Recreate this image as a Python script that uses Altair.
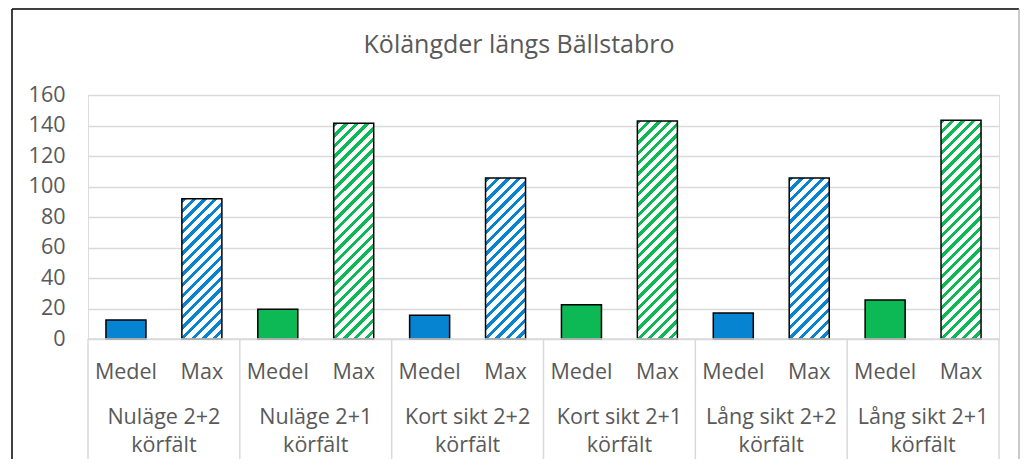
import altair as alt
import pandas as pd

# ---- data ----
groups = ["Nuläge 2+2 körfält", "Nuläge 2+1 körfält", "Kort sikt 2+2 körfält",
          "Kort sikt 2+1 körfält", "Lång sikt 2+2 körfält", "Lång sikt 2+1 körfält"]
group_labels = ["Nuläge 2+2\nkörfält", "Nuläge 2+1\nkörfält", "Kort sikt 2+2\nkörfält",
                "Kort sikt 2+1\nkörfält", "Lång sikt 2+2\nkörfält", "Lång sikt 2+1\nkörfält"]
lanes = ["2+2", "2+1", "2+2", "2+1", "2+2", "2+1"]
subs = ["Medel", "Max"]
medel = [12.5, 19.5, 15.5, 22.5, 17.0, 25.5]
maxv = [92.0, 141.5, 105.5, 143.0, 105.5, 143.5]
y_ticks = [0, 20, 40, 60, 80, 100, 120, 140, 160]
title_text = "Kölängder längs Bällstabro"

# ---- styling ----
BLUE = "#0784D1"
GREEN = "#0CB955"
lane_color = {"2+2": BLUE, "2+1": GREEN}
GRAY_TXT = "#595959"
GRID = "#D9D9D9"
FONT = "Open Sans"
W, H = 911, 244
YMAX = 160
BAR_W = 40.0

rows = []
for g, gl, ln, me, mx in zip(groups, group_labels, lanes, medel, maxv):
    rows.append({"group": g, "glabel": gl, "lane": ln, "sub": "Medel", "value": me})
    rows.append({"group": g, "glabel": gl, "lane": ln, "sub": "Max", "value": mx})
df = pd.DataFrame(rows)

xscale = alt.Scale(domain=groups, paddingInner=0, paddingOuter=0)
oscale = alt.Scale(domain=subs, paddingInner=0.473, paddingOuter=0.2365)
yscale = alt.Scale(domain=[0, YMAX])

yaxis = alt.Axis(values=y_ticks, title=None, domain=False, ticks=False,
                 grid=True, gridColor=GRID, gridWidth=1.3,
                 labelColor=GRAY_TXT, labelFontSize=21.5, labelFont=FONT,
                 labelPadding=23, labelOverlap=False)

X = alt.X("group:N", scale=xscale, axis=None)
XO = alt.XOffset("sub:N", scale=oscale)
Y = alt.Y("value:Q", scale=yscale, axis=yaxis)


def stripe_gradient(color, hpx, wpx=BAR_W, period=10.5, frac=0.42):
    gx, gy = 1.0 / hpx, 1.0 / wpx
    s = (gx + gy) / (gx * gx + gy * gy)
    gx, gy = s * gx, s * gy
    n = max(1, int(round((wpx + hpx) / period)))
    stops = []
    for k in range(n):
        a = k / n
        b = (k + frac) / n
        c = (k + 1) / n
        stops += [{"offset": a, "color": color},
                  {"offset": b, "color": color},
                  {"offset": b, "color": "#FFFFFF"},
                  {"offset": c, "color": "#FFFFFF"}]
    clean = []
    last = 0.0
    for st in stops:
        off = min(1.0, max(last, st["offset"]))
        clean.append({"offset": off, "color": st["color"]})
        last = off
    return {"gradient": "linear", "x1": 0, "y1": 0, "x2": gx, "y2": gy, "stops": clean}


base = alt.Chart(df)

medel_bars = base.transform_filter(alt.datum.sub == "Medel").mark_bar(
    stroke="black", strokeWidth=1.5
).encode(
    x=X, xOffset=XO, y=Y,
    color=alt.Color("lane:N", scale=alt.Scale(domain=["2+2", "2+1"], range=[BLUE, GREEN]),
                    legend=None),
)

max_layers = []
for g, ln, mx in zip(groups, lanes, maxv):
    hpx = mx / YMAX * H
    grad = stripe_gradient(lane_color[ln], hpx)
    max_layers.append(
        base.transform_filter((alt.datum.sub == "Max") & (alt.datum.group == g))
        .mark_bar(fill=grad, stroke="black", strokeWidth=1.5)
        .encode(x=X, xOffset=XO, y=Y)
    )

LBL = 21.5
sub_text = base.mark_text(font=FONT, fontSize=LBL, color=GRAY_TXT, baseline="alphabetic").encode(
    x=X, xOffset=XO, y=alt.value(284), text="sub:N"
)

grp_df = pd.DataFrame({"group": groups, "glabel": group_labels})
grp_text = alt.Chart(grp_df).mark_text(
    font=FONT, fontSize=LBL, color=GRAY_TXT, baseline="alphabetic",
    lineBreak="\n", lineHeight=28
).encode(x=X, y=alt.value(329), text="glabel:N")

seps = alt.Chart(grp_df).mark_rule(color=GRID, strokeWidth=1.5).encode(
    x=alt.X("group:N", scale=xscale, axis=None, bandPosition=0),
    y=alt.value(H), y2=alt.value(H + 123)
)
one = pd.DataFrame({"a": [0]})
sep_end = alt.Chart(one).mark_rule(color=GRID, strokeWidth=1.5).encode(
    x=alt.value(W), y=alt.value(H), y2=alt.value(H + 123)
)
baseline = alt.Chart(one).mark_rule(color=GRID, strokeWidth=1.5).encode(
    x=alt.value(0), x2=alt.value(W), y=alt.value(H)
)

title = alt.Chart(pd.DataFrame({"t": [title_text]})).mark_text(
    font=FONT, fontSize=25, color=GRAY_TXT, baseline="alphabetic", align="center"
).encode(x=alt.value(431), y=alt.value(-42), text="t:N")

border_left = alt.Chart(one).mark_rule(color="black", strokeWidth=1.5).encode(
    x=alt.value(-76), y=alt.value(-86), y2=alt.value(400))
border_top = alt.Chart(one).mark_rule(color="black", strokeWidth=1.5).encode(
    x=alt.value(-76), x2=alt.value(931), y=alt.value(-86))
border_right = alt.Chart(one).mark_rule(color="#A6A6A6", strokeWidth=1.2).encode(
    x=alt.value(931), y=alt.value(-86), y2=alt.value(400))

chart = alt.layer(
    medel_bars, *max_layers, baseline, seps, sep_end, sub_text, grp_text, title,
    border_left, border_top, border_right
).resolve_scale(x="shared").properties(
    width=W, height=H,
    autosize=alt.AutoSizeParams(type="none"),
    padding={"left": 80, "top": 87, "right": 21, "bottom": 120},
).configure_view(stroke=None).configure(background="white")

chart.save("out.html", embed_options={"renderer": "svg", "actions": False})
